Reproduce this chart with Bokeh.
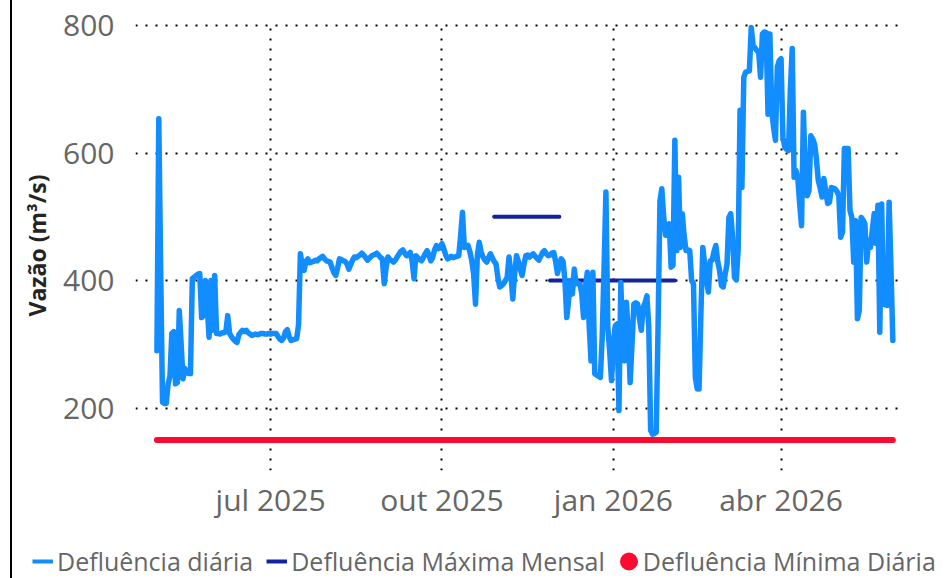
import pandas as pd
from bokeh.plotting import figure
from bokeh.layouts import column
from bokeh.models import ColumnDataSource, FixedTicker, Legend, LegendItem, Range1d
from bokeh.embed import file_html
from bokeh.resources import INLINE

# ---------------- data (m3/s) ----------------
start_date = "2025-05-01"

may_2025 = [290, 654, 420, 209, 207, 207, 238, 250, 317, 320, 238, 240, 353, 300, 246,
            262, 258, 254, 254, 403, 405, 408, 410, 411, 342, 345, 400, 360, 311, 400, 322]
jun_2025 = [408, 317, 317, 316, 318, 318, 320, 345, 317, 312, 308, 305, 303, 315, 319,
            322, 320, 322, 318, 316, 314, 315, 316, 315, 316, 317, 317, 316, 316, 317]
jul_2025 = [316, 317, 317, 317, 312, 308, 306, 310, 320, 323, 312, 306, 307, 308, 309,
            330, 442, 425, 416, 430, 434, 428, 429, 430, 432, 431, 434, 436, 438, 434, 431]
aug_2025 = [430, 429, 420, 412, 408, 420, 434, 433, 431, 430, 426, 418, 425, 432, 437,
            436, 438, 440, 443, 440, 436, 432, 435, 438, 440, 441, 443, 440, 436, 434, 395]
sep_2025 = [420, 437, 433, 431, 429, 432, 437, 442, 446, 448, 443, 439, 441, 444, 430,
            403, 439, 436, 433, 431, 436, 442, 447, 440, 431, 436, 448, 455, 450, 452]
oct_2025 = [458, 450, 440, 434, 436, 438, 436, 437, 438, 439, 470, 507, 452, 453, 455,
            445, 431, 410, 363, 440, 460, 445, 437, 432, 429, 436, 442, 436, 430, 426, 405]
nov_2025 = [390, 392, 395, 400, 405, 437, 410, 371, 410, 439, 430, 418, 408, 425, 439,
            440, 437, 440, 442, 438, 435, 432, 438, 444, 447, 442, 439, 440, 443, 444]
dec_2025 = [430, 411, 425, 434, 430, 400, 342, 370, 400, 379, 418, 395, 396, 395, 380,
            342, 390, 413, 330, 274, 413, 254, 252, 250, 248, 311, 420, 539, 327, 290, 243]
jan_2026 = [300, 329, 332, 196, 397, 300, 274, 366, 316, 240, 300, 363, 365, 363, 340,
            322, 358, 365, 376, 327, 165, 159, 160, 162, 330, 525, 544, 500, 471, 480, 489]
feb_2026 = [421, 424, 620, 447, 562, 452, 505, 470, 447, 448, 447, 400, 395, 248, 230,
            230, 350, 452, 426, 400, 382, 431, 432, 445, 455, 430, 416, 392]
mar_2026 = [390, 410, 426, 499, 505, 468, 405, 401, 450, 667, 546, 719, 727, 728, 729,
            797, 769, 765, 761, 758, 719, 787, 790, 789, 661, 787, 667, 640, 620, 735, 745]
apr_2026 = [748, 625, 609, 606, 604, 700, 764, 562, 573, 560, 520, 486, 664, 573, 533,
            541, 627, 622, 614, 590, 557, 545, 531, 560, 540, 521, 523, 546, 545, 544]
may_2026 = [540, 533, 468, 476, 607, 607, 607, 510, 499, 429, 494, 340, 353, 499, 495,
            489, 429, 463, 452, 480, 505, 458, 518, 319, 520, 363, 362, 361, 523, 420, 306]

daily = (may_2025 + jun_2025 + jul_2025 + aug_2025 + sep_2025 + oct_2025 + nov_2025 +
         dec_2025 + jan_2026 + feb_2026 + mar_2026 + apr_2026 + may_2026)

min_daily = 150

max_start = ["2025-10-29", "2025-11-28"]
max_end = ["2025-12-03", "2026-02-03"]
max_values = [500, 400]

tick_dates = ["2025-07-01", "2025-10-01", "2026-01-01", "2026-04-01"]
tick_labels = ["jul 2025", "out 2025", "jan 2026", "abr 2026"]
y_ticks = [200, 400, 600, 800]

series_labels = ["Defluência diária", "Defluência Máxima Mensal", "Defluência Mínima Diária"]
y_title = "Vazão (m³/s)"

# ---------------- build ----------------
dates = pd.date_range(start_date, periods=len(daily), freq="D")
src_daily = ColumnDataSource(dict(x=dates, y=daily))
src_min = ColumnDataSource(dict(x=[dates[0], dates[-1]], y=[min_daily, min_daily]))
src_max = ColumnDataSource(dict(x0=pd.to_datetime(max_start), x1=pd.to_datetime(max_end),
                                y0=max_values, y1=max_values))

FONT = "Open Sans"
BLUE = "#118DFF"
DARK = "#12239E"
RED = "#FC0B30"
GRAY = "#666666"
W = 932

t0 = pd.Timestamp(start_date)
xr = Range1d(t0 - pd.Timedelta(hours=11.5 * 24), t0 + pd.Timedelta(hours=401.8 * 24))
p = figure(width=W, height=544, output_backend="svg", toolbar_location=None,
           x_axis_type="datetime", x_range=xr, y_range=Range1d(102, 808),
           min_border_left=123, min_border_right=39, min_border_top=20, min_border_bottom=74)
p.outline_line_color = None
p.background_fill_color = "white"
p.border_fill_color = "white"

p.line("x", "y", source=src_min, line_color=RED, line_width=6, line_cap="round")
p.segment("x0", "y0", "x1", "y1", source=src_max, line_color=DARK, line_width=4,
          line_cap="round")
p.line("x", "y", source=src_daily, line_color=BLUE, line_width=5.5,
       line_join="round", line_cap="round")

tick_ms = [float(pd.Timestamp(d).value // 10**6) for d in tick_dates]
p.xaxis.ticker = FixedTicker(ticks=tick_ms)
p.xaxis.major_label_overrides = {t: l for t, l in zip(tick_ms, tick_labels)}
p.yaxis.ticker = FixedTicker(ticks=y_ticks)

for ax in (p.xaxis[0], p.yaxis[0]):
    ax.axis_line_color = None
    ax.major_tick_line_color = None
    ax.minor_tick_line_color = None
    ax.major_label_text_font = FONT
    ax.major_label_text_font_size = "30px"
    ax.major_label_text_color = GRAY
p.xaxis.major_label_standoff = 2
p.yaxis.major_label_standoff = 15
p.yaxis.axis_label = y_title
p.yaxis.axis_label_text_font = FONT
p.yaxis.axis_label_text_font_size = "23px"
p.yaxis.axis_label_text_font_style = "bold"
p.yaxis.axis_label_text_color = "#252423"
p.yaxis.axis_label_standoff = 7

for g in (p.xgrid[0], p.ygrid[0]):
    g.grid_line_color = "#000000"
    g.grid_line_width = 2
    g.grid_line_dash = "2 8"

# ---------------- legend strip (same series, drawn off-view; only legend shows) ----------------
lg = figure(width=W, height=34, output_backend="svg", toolbar_location=None,
            x_axis_type="datetime", x_range=xr, y_range=Range1d(-20, -10),
            x_axis_location=None, y_axis_location=None,
            min_border=0, min_border_left=0, min_border_right=0)
if hasattr(lg, "frame_align"):
    lg.frame_align = False
lg.outline_line_color = None
lg.grid.visible = False
l1 = lg.line("x", "y", source=src_daily, line_color=BLUE, line_width=4)
l2 = lg.segment("x0", "y0", "x1", "y1", source=src_max, line_color=DARK, line_width=4)
l3 = lg.scatter("x", "y", source=src_min, marker="circle", fill_color=RED,
                line_color=RED, line_width=10)
legend = Legend(items=[LegendItem(label=series_labels[0], renderers=[l1]),
                       LegendItem(label=series_labels[1], renderers=[l2]),
                       LegendItem(label=series_labels[2], renderers=[l3])],
                orientation="horizontal", location=(20, 0),
                glyph_width=21, glyph_height=20, label_standoff=4, spacing=13,
                padding=0, margin=0, border_line_color=None, background_fill_alpha=0,
                label_text_font=FONT, label_text_font_size="25px", label_text_color=GRAY)
lg.add_layout(legend)

layout = column(p, lg, spacing=0,
                styles={"border-left": "2px solid #000000", "margin-left": "10px"})

open("out.html", "w").write(file_html(layout, INLINE))
